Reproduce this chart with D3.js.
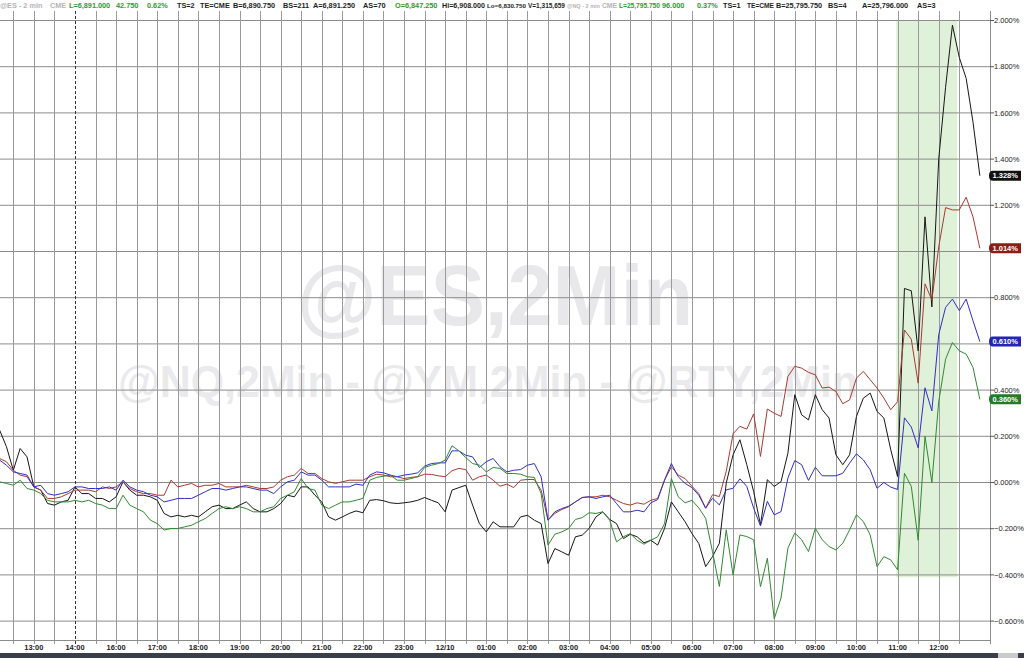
<!DOCTYPE html>
<html lang="en">
<head>
<meta charset="UTF-8">
<title>@ES,2Min - @NQ,2Min - @YM,2Min - @RTY,2Min</title>
<script src="https://cdn.jsdelivr.net/npm/d3@7"></script>
<style>
  body { margin: 0; background: #fff; }
  svg { display: block; font-family: "Liberation Sans", Arial, sans-serif; }
</style>
</head>
<body>
<script>
// % change series, one value every 10 min of session time,
// first value sits 20 min before the first gridline (12:30)
var startMinute = -20, stepMinutes = 10;

var rty = [ // black
  0.227, 0.155, 0.053, 0.147, 0.111, -0.019, -0.033, -0.091, -0.098, -0.084,
  -0.077, -0.019, -0.048, -0.048, -0.069, -0.069, -0.084, -0.062, 0.003, -0.033,
  -0.055, -0.055, -0.062, -0.077, -0.134, -0.149, -0.142, -0.149, -0.142, -0.149,
  -0.127, -0.105, -0.098, -0.113, -0.113, -0.098, -0.084, -0.113, -0.127, -0.127,
  -0.113, -0.091, -0.055, -0.062, -0.019, -0.019, -0.055, -0.084, -0.149, -0.163,
  -0.149, -0.134, -0.123, -0.131, -0.077, -0.074, -0.079, -0.088, -0.091, -0.088,
  -0.084, -0.077, -0.065, -0.077, -0.088, -0.127, -0.033, -0.022, -0.012, -0.098,
  -0.178, -0.214, -0.170, -0.192, -0.192, -0.192, -0.149, -0.142, -0.163, -0.178,
  -0.351, -0.286, -0.300, -0.315, -0.235, -0.228, -0.199, -0.149, -0.127, -0.160,
  -0.178, -0.243, -0.224, -0.235, -0.261, -0.250, -0.271, -0.199, -0.084, -0.127,
  -0.170, -0.221, -0.264, -0.364, -0.321, -0.263, -0.003, 0.120, 0.185, 0.077,
  -0.039, -0.183, 0.012, -0.017, 0.004, 0.127, 0.380, 0.293, 0.271, 0.380,
  0.315, 0.279, 0.120, 0.077, 0.120, 0.286, 0.365, 0.387, 0.308, 0.279,
  0.142, 0.026, 0.84, 0.83, 0.57, 1.15, 0.76, 1.40, 1.711, 1.98,
  1.84, 1.75, 1.56, 1.328
];

var ym = [ // red
  0.104, 0.090, 0.053, 0.032, 0.025, -0.019, -0.033, -0.069, -0.069, -0.062,
  -0.048, -0.033, -0.033, -0.033, -0.040, -0.019, -0.026, -0.019, 0.003, -0.026,
  -0.040, -0.048, -0.048, -0.055, -0.055, 0.010, -0.019, -0.012, -0.004, -0.019,
  -0.012, -0.012, -0.004, -0.019, -0.019, -0.019, -0.012, -0.019, -0.026, -0.026,
  -0.019, 0.010, 0.025, 0.032, 0.061, 0.039, 0.039, 0.017, 0.003, -0.004,
  0.003, 0.010, 0.010, 0.010, 0.025, 0.036, 0.032, 0.025, 0.025, 0.017,
  0.022, 0.025, 0.036, 0.035, 0.029, 0.025, 0.051, 0.061, 0.056, 0.010,
  0.025, 0.032, 0.010, -0.016, -0.007, -0.022, 0.010, 0.013, 0.013, -0.033,
  -0.163, -0.134, -0.117, -0.105, -0.084, -0.065, -0.062, -0.062, -0.055, -0.062,
  -0.077, -0.091, -0.098, -0.088, -0.094, -0.077, -0.069, 0.010, 0.068, 0.032,
  0.017, -0.016, -0.048, -0.111, -0.053, -0.061, 0.048, 0.211, 0.243, 0.231,
  0.297, 0.113, 0.318, 0.300, 0.286, 0.459, 0.503, 0.495, 0.477, 0.466,
  0.409, 0.413, 0.394, 0.341, 0.358, 0.452, 0.481, 0.445, 0.409, 0.365,
  0.315, 0.35, 0.66, 0.62, 0.43, 0.86, 0.79, 1.02, 1.19, 1.18,
  1.18, 1.235, 1.15, 1.014
];

var es = [ // blue
  0.097, 0.075, 0.046, 0.039, 0.032, -0.019, -0.012, -0.048, -0.055, -0.048,
  -0.040, -0.019, -0.019, -0.026, -0.026, -0.026, -0.019, -0.033, 0.010, -0.019,
  -0.033, -0.040, -0.055, -0.062, -0.084, -0.077, -0.069, -0.069, -0.069, -0.055,
  -0.040, -0.026, -0.026, -0.033, -0.026, -0.019, -0.019, -0.026, -0.033, -0.033,
  -0.048, -0.019, 0.003, 0.010, 0.046, 0.032, 0.032, 0.010, -0.019, -0.019,
  -0.019, -0.019, -0.007, -0.012, 0.032, 0.046, 0.042, 0.032, 0.025, 0.032,
  0.036, 0.042, 0.071, 0.082, 0.085, 0.085, 0.137, 0.137, 0.118, 0.111,
  0.065, 0.090, 0.104, 0.068, 0.046, 0.053, 0.056, 0.075, 0.082, 0.025,
  -0.163, -0.127, -0.113, -0.103, -0.084, -0.065, -0.062, -0.069, -0.062, -0.055,
  -0.091, -0.127, -0.127, -0.120, -0.127, -0.088, -0.074, 0.010, 0.082, 0.025,
  -0.004, -0.022, -0.055, -0.111, -0.068, -0.097, -0.032, -0.025, 0.016, -0.017,
  -0.111, -0.188, -0.082, -0.140, -0.126, 0.019, 0.095, 0.077, 0.009, 0.066,
  0.029, 0.029, 0.029, 0.040, 0.084, 0.124, 0.098, 0.055, -0.025, 0.000,
  -0.020, -0.030, 0.28, 0.24, 0.15, 0.41, 0.31, 0.64, 0.758, 0.794,
  0.744, 0.794, 0.70, 0.610
];

var nq = [ // green
  0.003, -0.004, -0.012, 0.010, -0.026, -0.033, -0.048, -0.077, -0.084, -0.084,
  -0.084, -0.077, -0.084, -0.077, -0.091, -0.098, -0.113, -0.113, -0.055, -0.098,
  -0.113, -0.127, -0.163, -0.178, -0.206, -0.199, -0.199, -0.192, -0.185, -0.170,
  -0.156, -0.134, -0.113, -0.105, -0.113, -0.105, -0.113, -0.127, -0.127, -0.113,
  -0.105, -0.069, -0.055, -0.040, 0.017, -0.026, -0.033, -0.098, -0.113, -0.098,
  -0.084, -0.084, -0.077, -0.069, 0.010, 0.022, 0.027, 0.032, 0.010, 0.010,
  0.017, 0.025, 0.065, 0.075, 0.082, 0.097, 0.159, 0.137, 0.108, 0.082,
  0.075, 0.046, 0.065, 0.061, 0.039, 0.039, 0.036, 0.025, 0.022, -0.048,
  -0.271, -0.224, -0.214, -0.199, -0.160, -0.152, -0.131, -0.134, -0.127, -0.163,
  -0.257, -0.235, -0.221, -0.250, -0.267, -0.250, -0.235, -0.178, 0.017, -0.062,
  -0.088, -0.077, -0.110, -0.155, -0.30, -0.45, -0.205, -0.40, -0.227, -0.234,
  -0.248, -0.451, -0.328, -0.59, -0.50, -0.284, -0.219, -0.248, -0.299, -0.198,
  -0.248, -0.277, -0.292, -0.263, -0.205, -0.140, -0.169, -0.227, -0.364, -0.321,
  -0.335, -0.378, 0.04, -0.017, -0.25, 0.20, 0.00, 0.35, 0.534, 0.606,
  0.57, 0.556, 0.498, 0.360
];

// hourly labels, on every second 30-min gridline starting at gridline 1
var timeLabels = ["13:00", "14:00", "16:00", "17:00", "18:00", "19:00", "20:00", "21:00",
  "22:00", "23:00", "12/10", "01:00", "02:00", "03:00", "04:00", "05:00", "06:00",
  "07:00", "08:00", "09:00", "10:00", "11:00", "12:00"];
var gridCount = 47;          // 30-min gridlines 0..46
var sessionBreak = 3;        // dashed gridline (14:00)
var yTicks = d3.range(-0.6, 2.001, 0.2);

// highlighted window (session minutes, % range)
var boxStart = 1288, boxEnd = 1377, boxLow = -0.41, boxHigh = 2.0;

// quote strip: text, colour kind, left x, room before next item
var headerItems = [
  ["@ES - 2 min", "dim", 0, 45], ["CME", "dim", 50, 16], ["L=6,891.000", "up", 69, 44],
  ["42.750", "up", 116, 27], ["0.62%", "up", 147, 27], ["TS=2", "txt", 177, 21],
  ["TE=CME", "txt", 200, 31], ["B=6,890.750", "txt", 233, 47], ["BS=211", "txt", 283, 28],
  ["A=6,891.250", "txt", 313, 47], ["AS=70", "txt", 363, 29], ["O=6,847.250", "up", 395, 45],
  ["Hi=6,908.000", "txt", 442, 43], ["Lo=6,830.750", "txt", 487, 39], ["V=1,315,659", "txt", 528, 37],
  ["@NQ - 2 min", "dim", 567, 33], ["CME", "dim", 602, 15], ["L=25,795.750", "up", 619, 41],
  ["96.000", "up", 662, 30], ["0.37%", "up", 697, 24], ["TS=1", "txt", 723, 22],
  ["TE=CME", "txt", 747, 27], ["B=25,795.750", "txt", 776, 49], ["BS=4", "txt", 828, 30],
  ["A=25,796.000", "txt", 862, 52], ["AS=3", "txt", 917, 20]
];

var width = 1024, height = 658;
var plotLeft = 0, plotRight = 990, plotTop = 11, plotBottom = 640;

var svg = d3.select("body").append("svg")
    .attr("width", width)
    .attr("height", height);

var x = d3.scaleLinear()
    .domain([0, 30])
    .range([13.3, 13.3 + 20.565]);
var y = d3.scaleLinear()
    .domain([-0.6, 2.0])
    .range([621.1, 20.5]);

var series = [
  { name: "RTY", values: rty, color: "#161616", tag: "#111111" },
  { name: "YM", values: ym, color: "#a83a32", tag: "#8e1b16" },
  { name: "ES", values: es, color: "#2f2fc8", tag: "#2424b8" },
  { name: "NQ", values: nq, color: "#2f8a30", tag: "#257a26" }
];
function last(s) { return s.values[s.values.length - 1]; }

svg.append("defs").append("clipPath")
    .attr("id", "plotclip")
  .append("rect")
    .attr("x", plotLeft).attr("y", plotTop)
    .attr("width", plotRight - plotLeft).attr("height", plotBottom - plotTop);

// watermark
svg.append("text")
    .attr("x", 495).attr("y", 325)
    .attr("text-anchor", "middle")
    .attr("textLength", 396)
    .attr("lengthAdjust", "spacingAndGlyphs")
    .style("font-size", "86px").style("font-weight", "bold")
    .style("fill", "#e8e8ea")
    .text("@ES,2Min");
svg.append("text")
    .attr("x", 488).attr("y", 397)
    .attr("text-anchor", "middle")
    .attr("textLength", 740)
    .attr("lengthAdjust", "spacingAndGlyphs")
    .style("font-size", "44px").style("font-weight", "bold")
    .style("fill", "#eaeaec")
    .text("@NQ,2Min - @YM,2Min - @RTY,2Min");

// highlighted window
svg.append("rect")
    .attr("x", x(boxStart))
    .attr("y", y(boxHigh))
    .attr("width", x(boxEnd) - x(boxStart))
    .attr("height", y(boxLow) - y(boxHigh))
    .attr("fill", "#dff1d8");

// gridlines
var grid = svg.append("g");
grid.selectAll(".hgrid")
    .data(yTicks)
    .enter().append("line")
    .attr("class", "hgrid")
    .attr("x1", plotLeft).attr("x2", plotRight)
    .attr("y1", function (d) { return y(d); })
    .attr("y2", function (d) { return y(d); })
    .attr("stroke", "#8c8c8c").attr("stroke-width", 1);

grid.selectAll(".vgrid")
    .data(d3.range(gridCount))
    .enter().append("line")
    .attr("class", "vgrid")
    .attr("x1", function (d) { return Math.round(x(d * 30)) + 0.5; })
    .attr("x2", function (d) { return Math.round(x(d * 30)) + 0.5; })
    .attr("y1", plotTop).attr("y2", plotBottom + 4)
    .attr("stroke", function (d) { return d === sessionBreak ? "#333" : "#9a9a9a"; })
    .attr("stroke-dasharray", function (d) { return d === sessionBreak ? "3,2" : null; })
    .attr("stroke-width", 1);

// frame: bottom and right edges
svg.append("line")
    .attr("x1", plotLeft).attr("x2", plotRight)
    .attr("y1", plotBottom + 0.5).attr("y2", plotBottom + 0.5)
    .attr("stroke", "#8c8c8c");
svg.append("line")
    .attr("x1", plotRight + 0.5).attr("x2", plotRight + 0.5)
    .attr("y1", plotTop).attr("y2", plotBottom + 4)
    .attr("stroke", "#8c8c8c");

// series lines
var line = d3.line()
    .x(function (d, i) { return x(startMinute + i * stepMinutes); })
    .y(function (d) { return y(d); });

svg.append("g")
    .attr("clip-path", "url(#plotclip)")
  .selectAll(".series")
    .data(series)
    .enter().append("path")
    .attr("class", "series")
    .attr("d", function (d) { return line(d.values); })
    .attr("fill", "none")
    .attr("stroke", function (d) { return d.color; })
    .attr("stroke-width", 1)
    .attr("stroke-linejoin", "round");

// right axis (labels hidden where a last-value tag covers them)
var fmt = d3.format(".3f");
var tagYs = series.map(function (s) { return y(last(s)); });
var visibleTicks = yTicks.filter(function (t) {
    return tagYs.every(function (ty) { return Math.abs(ty - y(t)) > 8; });
});
var yAxis = svg.append("g");
yAxis.selectAll(".ytick")
    .data(yTicks)
    .enter().append("line")
    .attr("x1", plotRight).attr("x2", plotRight + 4)
    .attr("y1", function (d) { return y(d); })
    .attr("y2", function (d) { return y(d); })
    .attr("stroke", "#555");
yAxis.selectAll(".ylabel")
    .data(visibleTicks)
    .enter().append("text")
    .attr("x", plotRight + 4)
    .attr("y", function (d) { return y(d); })
    .attr("dy", "0.35em")
    .style("font-size", "7.5px")
    .style("fill", "#222")
    .text(function (d) { return fmt(Math.abs(d) < 1e-9 ? 0 : d) + "%"; });

// last-value tags
var tags = svg.append("g").selectAll(".tag")
    .data(series)
    .enter().append("g")
    .attr("transform", function (d) {
        return "translate(" + (plotRight - 1) + "," + y(last(d)) + ")";
    });
tags.append("path")
    .attr("d", "M0,0 Q0,-5 4,-5 L32,-5 L32,5 L4,5 Q0,5 0,0 Z")
    .attr("fill", function (d) { return d.tag; });
tags.append("text")
    .attr("x", 3.5).attr("dy", "0.35em")
    .style("font-size", "7.5px").style("font-weight", "bold")
    .style("fill", "#fff")
    .text(function (d) { return fmt(last(d)) + "%"; });

// time axis
svg.append("g").selectAll(".xlabel")
    .data(timeLabels)
    .enter().append("text")
    .attr("x", function (d, i) { return x((1 + 2 * i) * 30); })
    .attr("y", 647)
    .attr("dy", "0.35em")
    .attr("text-anchor", "middle")
    .style("font-size", "7.5px").style("font-weight", "bold")
    .style("fill", "#222")
    .text(function (d) { return d; });

// bottom scroll bar
svg.append("rect")
    .attr("x", 0).attr("y", 653).attr("width", width).attr("height", 5)
    .attr("fill", "#3a3e49");
svg.append("rect")
    .attr("x", 998).attr("y", 653).attr("width", 20).attr("height", 5)
    .attr("fill", "#c9cacc");

// header strip: each item shrunk only if it would run into the next one
svg.append("rect")
    .attr("x", 0).attr("y", 0).attr("width", width).attr("height", plotTop - 1)
    .attr("fill", "#fff");
var headerColor = { dim: "#b4b4b4", up: "#2f9a2f", txt: "#1e1e1e" };
var baseSize = 7.3;
svg.append("g").selectAll(".hdr")
    .data(headerItems)
    .enter().append("text")
    .attr("x", function (d) { return d[2]; })
    .attr("y", 7.5)
    .style("font-size", baseSize + "px").style("font-weight", "bold")
    .style("fill", function (d) { return headerColor[d[1]]; })
    .text(function (d) { return d[0]; })
    .each(function (d) {
        var w = this.getComputedTextLength();
        if (w > d[3]) {
            d3.select(this).style("font-size", (baseSize * d[3] / w).toFixed(2) + "px");
        }
    });
</script>
</body>
</html>
